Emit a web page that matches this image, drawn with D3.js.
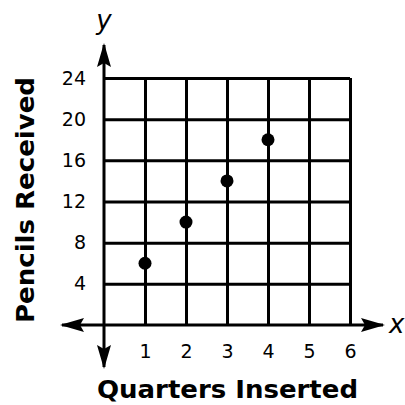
<!DOCTYPE html>
<html><head><meta charset="utf-8">
<script src="https://cdn.jsdelivr.net/npm/d3@7"></script>
<style>
html,body{margin:0;padding:0;background:#fff;}
svg{display:block;font-family:"DejaVu Sans",Verdana,sans-serif;}
</style></head>
<body>
<script>
const quarters = [1, 2, 3, 4];
const pencils = [6, 10, 14, 18];
const xTicks = [1, 2, 3, 4, 5, 6];
const yTicks = [4, 8, 12, 16, 20, 24];
const xTitle = "Quarters Inserted";
const yTitle = "Pencils Received";

const W = 405, H = 405;
const svg = d3.select("body").append("svg").attr("width", W).attr("height", H);

const x = d3.scaleLinear().domain([0, 6]).range([104, 350]);
const y = d3.scaleLinear().domain([0, 24]).range([325, 78]);

// vertical grid + x labels
const gx = svg.append("g").attr("transform", `translate(0,${y(0)})`)
  .call(d3.axisBottom(x).tickValues(xTicks).tickFormat(d3.format("d"))
    .tickSizeInner(-(y(0) - y(24))).tickSizeOuter(0).tickPadding(20));
gx.select(".domain").remove();
gx.selectAll(".tick line").attr("stroke", "#000").attr("stroke-width", 3);
gx.selectAll(".tick text").attr("font-size", 19).attr("fill", "#000")
  .attr("font-family", "DejaVu Sans, Verdana, sans-serif");

// horizontal grid + y labels
const gy = svg.append("g").attr("transform", `translate(${x(0)},0)`)
  .call(d3.axisLeft(y).tickValues(yTicks).tickFormat(d3.format("d"))
    .tickSizeInner(-(x(6) - x(0))).tickSizeOuter(0).tickPadding(18));
gy.select(".domain").remove();
gy.selectAll(".tick line").attr("stroke", "#000").attr("stroke-width", 3);
gy.selectAll(".tick text").attr("font-size", 19).attr("fill", "#000")
  .attr("font-family", "DejaVu Sans, Verdana, sans-serif");

// axes with arrows
const defs = svg.append("defs");
defs.append("marker").attr("id", "arr").attr("viewBox", "0 0 24 14")
  .attr("refX", 22).attr("refY", 7).attr("markerWidth", 24).attr("markerHeight", 14)
  .attr("markerUnits", "userSpaceOnUse").attr("orient", "auto-start-reverse")
  .append("path").attr("d", "M0,0 L24,7 L0,14 L4,7 Z").attr("fill", "#000");

svg.append("line").attr("x1", x(0) - 42).attr("x2", x(6) + 33)
  .attr("y1", y(0)).attr("y2", y(0)).attr("stroke", "#000").attr("stroke-width", 3)
  .attr("marker-start", "url(#arr)").attr("marker-end", "url(#arr)");
svg.append("line").attr("x1", x(0)).attr("x2", x(0))
  .attr("y1", y(0) + 42).attr("y2", y(24) - 33).attr("stroke", "#000").attr("stroke-width", 3)
  .attr("marker-start", "url(#arr)").attr("marker-end", "url(#arr)");

// points
svg.append("g").selectAll("circle").data(quarters).join("circle")
  .attr("cx", (d) => x(d)).attr("cy", (d, i) => y(pencils[i])).attr("r", 6.5).attr("fill", "#000");

// axis letters
svg.append("text").attr("x", x(0)).attr("y", 29).attr("text-anchor", "middle")
  .attr("font-size", 26).attr("font-style", "italic").text("y");
svg.append("text").attr("x", 389).attr("y", 333).attr("text-anchor", "start")
  .attr("font-size", 26).attr("font-style", "italic").text("x");

// titles
svg.append("text").attr("x", 97).attr("y", 398).attr("text-anchor", "start")
  .attr("font-size", 24).attr("font-weight", "bold")
  .attr("textLength", 261).attr("lengthAdjust", "spacingAndGlyphs").text(xTitle);
svg.append("text").attr("transform", "translate(34,323) rotate(-90)").attr("text-anchor", "start")
  .attr("font-size", 24).attr("font-weight", "bold")
  .attr("textLength", 246).attr("lengthAdjust", "spacingAndGlyphs").text(yTitle);
</script>
</body></html>
